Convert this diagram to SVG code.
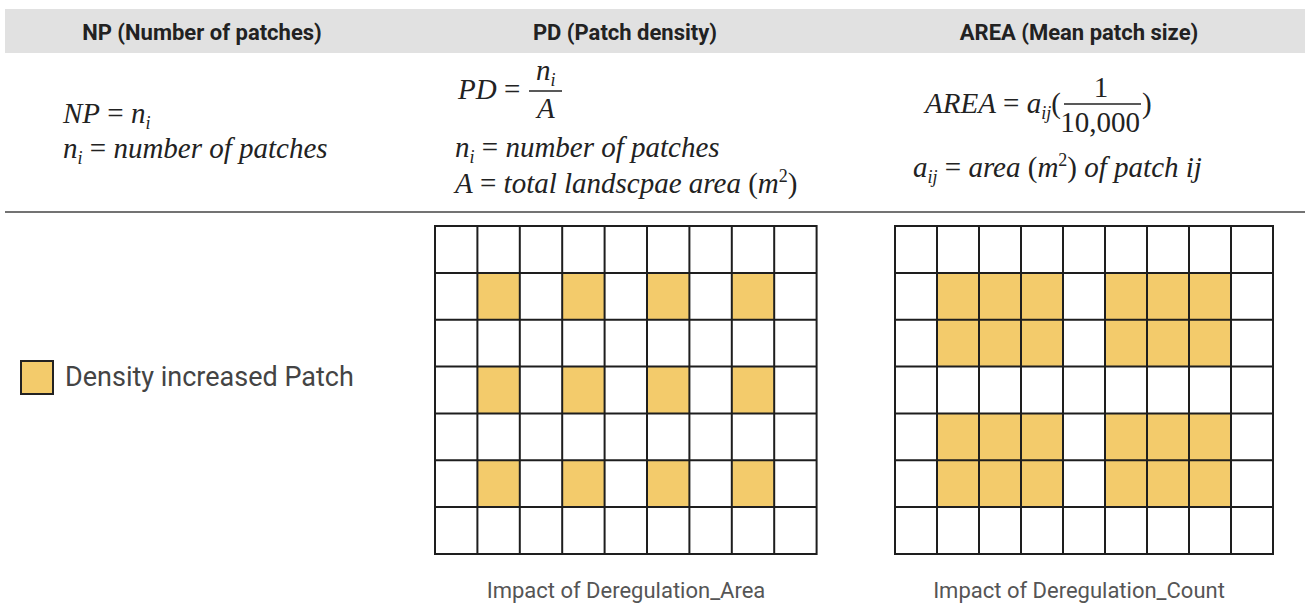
<svg xmlns="http://www.w3.org/2000/svg" width="1306" height="604" viewBox="0 0 1306 604">
<style>
.hd{font-family:Roboto,"Liberation Sans",sans-serif;font-weight:bold;font-size:22px;fill:#222;text-anchor:middle}
.f{font-family:"Liberation Serif","Times New Roman",serif;font-style:italic;font-size:29px;fill:#222}
.up{font-style:normal}
.sm{font-size:18px}
.cap{font-family:Roboto,"Liberation Sans",sans-serif;font-size:22px;fill:#555;text-anchor:middle}
.leg{font-family:Roboto,"Liberation Sans",sans-serif;font-size:27px;fill:#444}
.y{fill:#f3cb6b}
.g{fill:none;stroke:#1e1e1e;stroke-width:2}
</style>
<rect width="1306" height="604" fill="#fff"/>
<g id="header">
<rect x="5" y="9" width="1300" height="44" fill="#e1e1e1"/>
<text class="hd" x="202" y="40">NP (Number of patches)</text>
<text class="hd" x="625" y="40">PD (Patch density)</text>
<text class="hd" x="1079" y="40">AREA (Mean patch size)</text>
</g>
<g id="np-formula">
<text class="f" x="63" y="123">NP<tspan class="up"> = </tspan>n<tspan class="sm" dy="6">i</tspan></text>
<text class="f" x="63" y="158">n<tspan class="sm" dy="6">i</tspan><tspan class="up" dy="-6"> = </tspan>number of patches</text>
</g>
<g id="pd-formula">
<text class="f" x="458" y="99">PD<tspan class="up"> = </tspan></text>
<text class="f" x="536" y="80">n<tspan class="sm" dy="6">i</tspan></text>
<line x1="529" y1="91" x2="562" y2="91" stroke="#222" stroke-width="1.3"/>
<text class="f" x="537" y="118">A</text>
<text class="f" x="455" y="157">n<tspan class="sm" dy="6">i</tspan><tspan class="up" dy="-6"> = </tspan>number of patches</text>
<text class="f" x="455" y="193">A<tspan class="up"> = </tspan>total landscpae area <tspan class="up">(</tspan>m<tspan class="up sm" dy="-11">2</tspan><tspan class="up" dy="11">)</tspan></text>
</g>
<g id="area-formula">
<text class="f" x="925" y="113">AREA<tspan class="up"> = </tspan>a<tspan class="sm" dy="6">ij</tspan><tspan class="up" dy="-6">(</tspan></text>
<text class="f up" x="1101" y="97" text-anchor="middle">1</text>
<line x1="1064" y1="104" x2="1141" y2="104" stroke="#222" stroke-width="1.3"/>
<text class="f up" x="1100" y="132" text-anchor="middle" font-size="27">10,000</text>
<text class="f up" x="1142" y="113">)</text>
<text class="f" x="913" y="177">a<tspan class="sm" dy="6">ij</tspan><tspan class="up" dy="-6"> = </tspan>area <tspan class="up">(</tspan>m<tspan class="up sm" dy="-11">2</tspan><tspan class="up" dy="11">)</tspan> of patch ij</text>
</g>
<line id="separator" x1="5" y1="212" x2="1305" y2="212" stroke="#444" stroke-width="1.5"/>
<g id="legend">
<rect x="21" y="361" width="32" height="33" fill="#f3cb6b" stroke="#222" stroke-width="2"/>
<text class="leg" x="65" y="386">Density increased Patch</text>
</g>
<g id="grid-area">
<rect class="y" x="477.4" y="272.9" width="42.4" height="46.8"/>
<rect class="y" x="562.2" y="272.9" width="42.4" height="46.8"/>
<rect class="y" x="647" y="272.9" width="42.4" height="46.8"/>
<rect class="y" x="731.8" y="272.9" width="42.4" height="46.8"/>
<rect class="y" x="477.4" y="366.6" width="42.4" height="46.8"/>
<rect class="y" x="562.2" y="366.6" width="42.4" height="46.8"/>
<rect class="y" x="647" y="366.6" width="42.4" height="46.8"/>
<rect class="y" x="731.8" y="366.6" width="42.4" height="46.8"/>
<rect class="y" x="477.4" y="460.3" width="42.4" height="46.8"/>
<rect class="y" x="562.2" y="460.3" width="42.4" height="46.8"/>
<rect class="y" x="647" y="460.3" width="42.4" height="46.8"/>
<rect class="y" x="731.8" y="460.3" width="42.4" height="46.8"/>
<path class="g" d="M435,226V554M477.4,226V554M519.8,226V554M562.2,226V554M604.6,226V554M647,226V554M689.4,226V554M731.8,226V554M774.2,226V554M816.6,226V554M434,226H817.6M434,272.9H817.6M434,319.7H817.6M434,366.6H817.6M434,413.4H817.6M434,460.3H817.6M434,507.1H817.6M434,554H817.6"/>
<text class="cap" x="626" y="598">Impact of Deregulation_Area</text>
</g>
<g id="grid-count">
<rect class="y" x="937" y="272.9" width="126" height="93.7"/>
<rect class="y" x="1105" y="272.9" width="126" height="93.7"/>
<rect class="y" x="937" y="413.4" width="126" height="93.7"/>
<rect class="y" x="1105" y="413.4" width="126" height="93.7"/>
<path class="g" d="M895,226V554M937,226V554M979,226V554M1021,226V554M1063,226V554M1105,226V554M1147,226V554M1189,226V554M1231,226V554M1273,226V554M894,226H1274M894,272.9H1274M894,319.7H1274M894,366.6H1274M894,413.4H1274M894,460.3H1274M894,507.1H1274M894,554H1274"/>
<text class="cap" x="1079" y="598">Impact of Deregulation_Count</text>
</g>
</svg>
